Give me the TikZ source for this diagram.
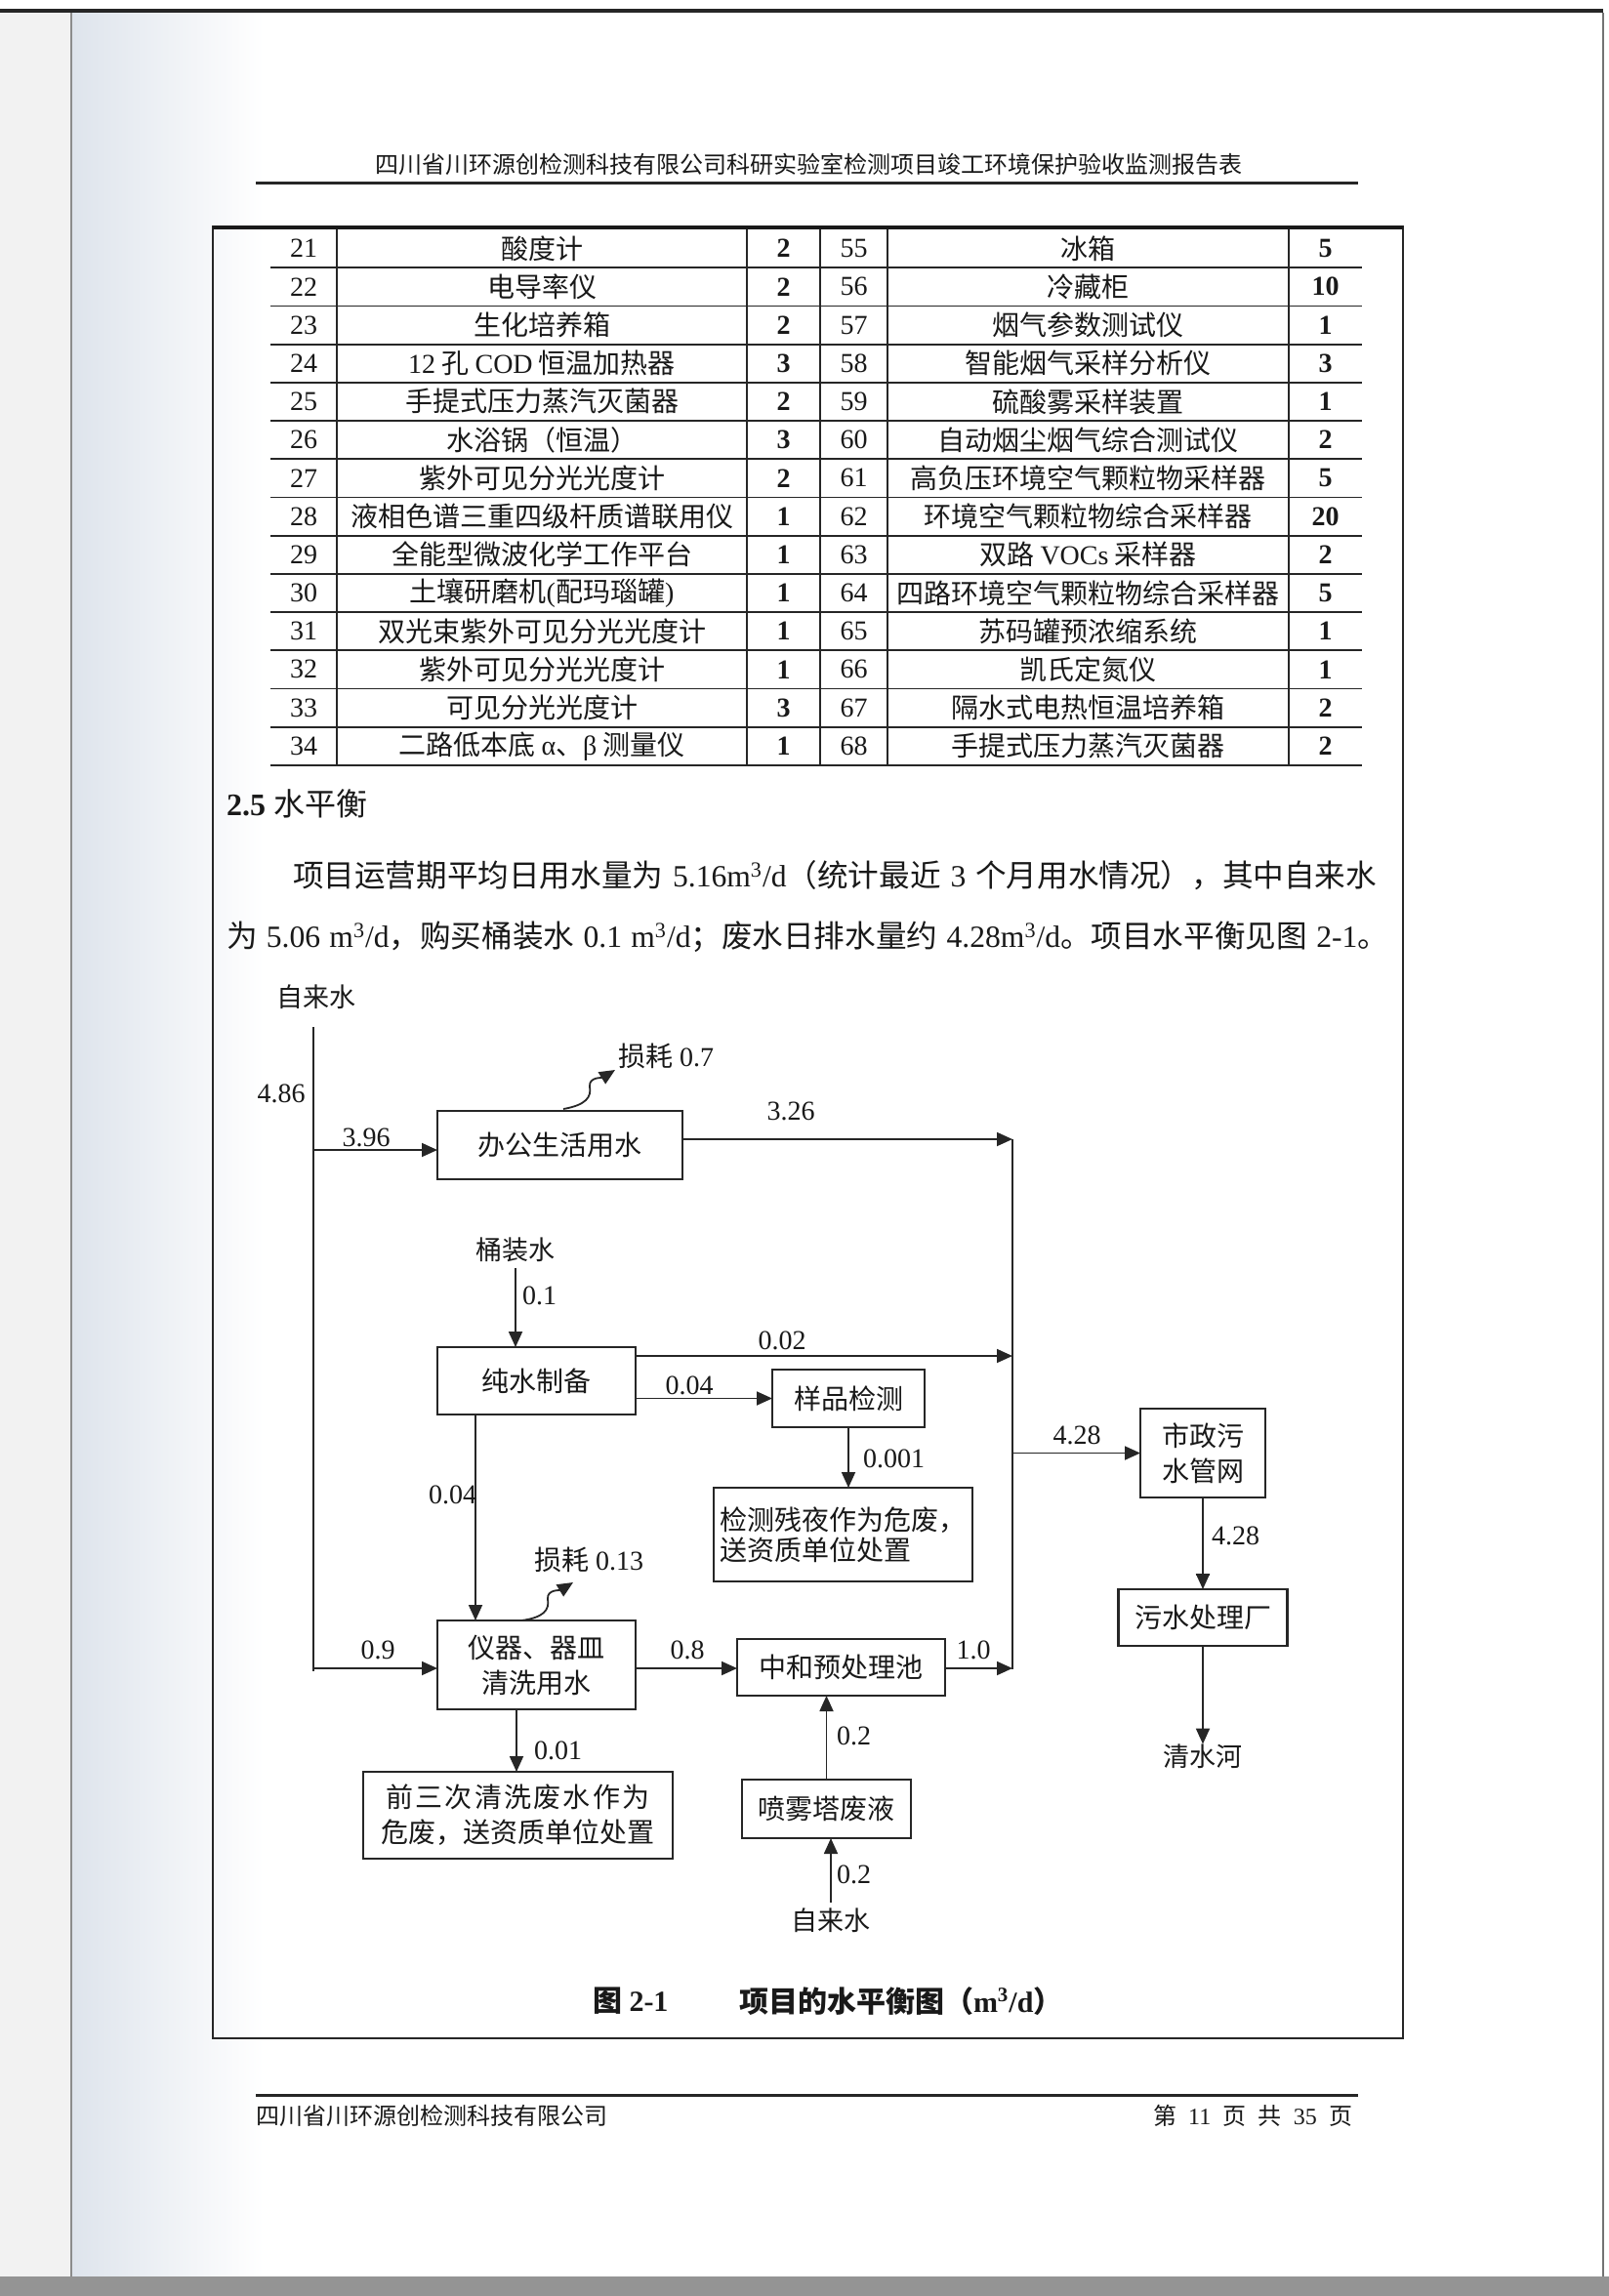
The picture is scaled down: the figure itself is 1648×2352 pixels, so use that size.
\documentclass[tikz,border=0pt]{standalone}
\usepackage{fontspec}
\setmainfont{Liberation Serif}
\newfontfamily\cjk{Noto Sans CJK SC}
\newfontfamily\cjksp[LetterSpace=8]{Noto Sans CJK SC}
\usetikzlibrary{arrows.meta}
\newcommand\zh[1]{{\cjk #1}}
\definecolor{scanshade}{RGB}{222,228,236}
\begin{document}
\begin{tikzpicture}[x=0.5pt,y=-0.5pt,
  every node/.style={inner sep=0pt, outer sep=0pt, text=black!90},
  tline/.style={line width=0.9pt, black!85},
  cell/.style={font=\fontsize{14}{16}\selectfont\cjk},
  num/.style={font=\fontsize{14}{16}\selectfont},
  cnt/.style={font=\fontsize{14}{16}\selectfont\bfseries},
  box/.style={draw=black!85, line width=1.2pt, inner sep=0pt, font=\fontsize{14}{18}\selectfont\cjk, align=center},
  lbl/.style={font=\fontsize{14}{16}\selectfont},
  zlbl/.style={font=\fontsize{13.5}{16}\selectfont\cjk},
  flow/.style={line width=0.9pt, black!85},
  arr/.style={flow, -{Triangle[length=8pt,width=7pt]}},
]
\useasboundingbox (0,0) rectangle (1648,2352);
% page and scan artefacts
\fill[white] (0,0) rectangle (1648,2352);
\fill[black!5] (0,13) rectangle (72,2332);
\shade[left color=scanshade, right color=white] (74,13) rectangle (270,2332);
\draw[black!45, line width=1pt] (73,13) -- (73,2332);
\fill[black!85] (0,9) rectangle (1642,13);
\draw[black!55, line width=0.8pt] (1642,13) -- (1642,2332);
\fill[black!42] (0,2332) rectangle (1648,2352);

% header
\node[font=\fontsize{12}{14}\selectfont\cjk] (hdr) at (828,168) {四川省川环源创检测科技有限公司科研实验室检测项目竣工环境保护验收监测报告表};
\draw[line width=1.5pt, black!85] (262,187) -- (1391,187);

% page frame
\draw[line width=1pt, black!85] (218,232) rectangle (1437,2088);
\draw[line width=2pt, black!90] (218,233) -- (1437,233);

% table
\foreach \k in {1,...,14} \draw[tline] (277,{235+39.2*\k}) -- (1395,{235+39.2*\k});
\foreach \x in {345,765,840,909,1320} \draw[tline] (\x,235) -- (\x,784);
\foreach \i/\na/\ta/\ca/\nb/\tb/\cb in {
 0/21/酸度计/2/55/冰箱/5,
 1/22/电导率仪/2/56/冷藏柜/10,
 2/23/生化培养箱/2/57/烟气参数测试仪/1,
 3/24/{{\rmfamily 12} 孔 {\rmfamily COD} 恒温加热器}/3/58/智能烟气采样分析仪/3,
 4/25/手提式压力蒸汽灭菌器/2/59/硫酸雾采样装置/1,
 5/26/水浴锅（恒温）/3/60/自动烟尘烟气综合测试仪/2,
 6/27/紫外可见分光光度计/2/61/高负压环境空气颗粒物采样器/5,
 7/28/液相色谱三重四级杆质谱联用仪/1/62/环境空气颗粒物综合采样器/20,
 8/29/全能型微波化学工作平台/1/63/{双路 {\rmfamily VOCs} 采样器}/2,
 9/30/{土壤研磨机{\rmfamily (}配玛瑙罐{\rmfamily )}}/1/64/四路环境空气颗粒物综合采样器/5,
 10/31/双光束紫外可见分光光度计/1/65/苏码罐预浓缩系统/1,
 11/32/紫外可见分光光度计/1/66/凯氏定氮仪/1,
 12/33/可见分光光度计/3/67/隔水式电热恒温培养箱/2,
 13/34/{二路低本底 {\rmfamily α}、{\rmfamily β} 测量仪}/1/68/手提式压力蒸汽灭菌器/2}{
  \node[num] (na\i) at (311,{254.6+39.2*\i}) {\na};
  \node[cell] (ta\i) at (555,{254.6+39.2*\i}) {\ta};
  \node[cnt] (ca\i) at (802.5,{254.6+39.2*\i}) {\ca};
  \node[num] (nb\i) at (874.5,{254.6+39.2*\i}) {\nb};
  \node[cell] (tb\i) at (1114.5,{254.6+39.2*\i}) {\tb};
  \node[cnt] (cb\i) at (1357.5,{254.6+39.2*\i}) {\cb};
}

% section heading and paragraph
\node[anchor=west, font=\fontsize{16}{18}\selectfont] (sec) at (232,823) {\textbf{2.5} \zh{水平衡}};
\node[anchor=west, font=\fontsize{15.8}{18}\selectfont] (p1) at (300,897) {\makebox[555pt][s]{\zh{项目运营期平均日用水量为} 5.16m\textsuperscript{3}/d\zh{（统计最近} 3 \zh{个月用水情况），其中自来水}}};
\node[anchor=west, font=\fontsize{15.8}{18}\selectfont] (p2) at (232,960) {\makebox[595pt][s]{\zh{为} 5.06 m\textsuperscript{3}/d\zh{，购买桶装水} 0.1 m\textsuperscript{3}/d\zh{；废水日排水量约} 4.28m\textsuperscript{3}/d\zh{。项目水平衡见图} 2-1\zh{。}}};

% ---------- diagram ----------
\node[zlbl] (src1) at (324,1021) {自来水};
\coordinate (mtop) at (321,1052);
\coordinate (mbot) at (321,1712);
\draw[flow] (mtop) -- (mbot);
\node[lbl] (l486) at (288,1120) {4.86};

\node[box, minimum width=125.5pt, minimum height=35pt] (office) at (573.5,1173) {办公生活用水};
\coordinate (j396) at (321,1178);
\draw[arr] (j396) -- (j396 -| office.west);
\node[lbl] (l396) at (375,1165) {3.96};

\coordinate (c326) at (1037,1167);
\coordinate (cbot) at (1037,1710);
\draw[flow] (c326) -- (cbot);
\draw[arr] (office.east |- c326) -- (c326);
\node[lbl] (l326) at (810,1138) {3.26};

\coordinate (loss1) at (630,1096);
\draw[flow, -{Triangle[length=8pt,width=7pt]}] (577,1136) .. controls (600,1132) and (606,1124) .. (604,1113) .. controls (603,1103) and (617,1104) .. (loss1);
\node[lbl] (l07) at (682,1082) {\zh{损耗} 0.7};

\node[zlbl] (tz) at (528,1280) {桶装水};
\node[box, minimum width=101.5pt, minimum height=34.5pt] (pure) at (549.5,1414.5) {纯水制备};
\draw[arr] ([yshift=-3pt]tz.south) -- (tz.south |- pure.north);
\node[lbl, anchor=west] (l01) at (535,1327) {0.1};

\coordinate (c002) at (1037,1389);
\draw[arr] (pure.east |- c002) -- (c002);
\node[lbl] (l002) at (801,1373) {0.02};

\node[box, minimum width=78pt, minimum height=29.5pt] (sample) at (869,1432.5) {样品检测};
\draw[arr] (pure.east |- sample.west) -- (sample.west);
\node[lbl] (l004h) at (706,1419) {0.04};

\node[box, minimum width=132.5pt, minimum height=48pt, align=left, font=\fontsize{14}{15.5}\selectfont\cjk] (resid) at (863.5,1572) {检测残夜作为危废，\\送资质单位处置};
\draw[arr] (sample.south) -- (sample.south |- resid.north);
\node[lbl, anchor=west] (l0001) at (884,1494) {0.001};

\node[box, minimum width=64pt, minimum height=45.5pt] (muni) at (1232,1488.5) {市政污\\水管网};
\coordinate (c428) at (1037,1488.5);
\draw[arr] (c428) -- (muni.west);
\node[lbl] (l428h) at (1103,1470) {4.28};

\node[box, minimum width=86.5pt, minimum height=29pt] (plant) at (1232,1657) {污水处理厂};
\draw[arr] (muni.south) -- (muni.south |- plant.north);
\coordinate (barc) at (1232,1613);
\draw[flow] ([xshift=-3.5pt]barc) -- ([xshift=3.5pt]barc);
\node[lbl, anchor=west] (l428v) at (1241,1573) {4.28};

\node[zlbl] (qsh) at (1232,1799) {清水河};
\draw[arr] (plant.south) -- (qsh.north);

\node[box, minimum width=101.5pt, minimum height=45.5pt] (wash) at (549.5,1705.5) {仪器、器皿\\清洗用水};
\coordinate (p04) at (487,1449);
\draw[arr] (p04) -- (p04 |- wash.north);
\node[lbl, anchor=east] (l004v) at (488,1531) {0.04};

\coordinate (loss2) at (587,1621);
\draw[flow, -{Triangle[length=8pt,width=7pt]}] (534,1660) .. controls (557,1657) and (563,1649) .. (561,1638) .. controls (560,1628) and (574,1629) .. (loss2);
\node[lbl] (l013) at (603,1598) {\zh{损耗} 0.13};

\node[box, minimum width=106.5pt, minimum height=29pt] (neut) at (861.5,1708) {中和预处理池};
\coordinate (j09) at (321,1709);
\draw[arr] (j09) -- (j09 -| wash.west);
\node[lbl] (l09) at (387,1690) {0.9};
\draw[arr] (wash.east |- j09) -- (j09 -| neut.west);
\node[lbl] (l08) at (704,1690) {0.8};
\draw[arr] (neut.east |- j09) -- (j09 -| cbot);
\node[lbl] (l10) at (997,1690) {1.0};

\node[box, minimum width=158.5pt, minimum height=44.5pt] (waste3) at (530.5,1859.5) {{\cjksp 前三次清洗废水作为}\\危废，送资质单位处置};
\draw[arr] (wash.south -| 529,0) -- (waste3.north -| 529,0);
\node[lbl, anchor=west] (l001) at (547,1793) {0.01};

\node[box, minimum width=86.5pt, minimum height=30pt] (spray) at (846.5,1853) {喷雾塔废液};
\draw[arr] (spray.north) -- (spray.north |- neut.south);
\node[lbl, anchor=west] (l02a) at (857,1778) {0.2};

\node[zlbl] (src2) at (851,1967) {自来水};
\draw[arr] ([yshift=3pt]src2.north) -- (src2.north |- spray.south);
\node[lbl, anchor=west] (l02b) at (857,1920) {0.2};

% caption
\node[anchor=west, font=\fontsize{15}{17}\selectfont\bfseries] (cap1) at (607,2050) {\zh{图} 2-1};
\node[anchor=west, font=\fontsize{15}{17}\selectfont\bfseries] (cap2) at (757,2050) {\zh{项目的水平衡图（}m\textsuperscript{3}/d\zh{）}};

% footer
\draw[line width=1.5pt, black!85] (262,2146) -- (1391,2146);
\node[anchor=west, font=\fontsize{12}{14}\selectfont\cjk] (fl) at (262,2167) {四川省川环源创检测科技有限公司};
\node[anchor=east, font=\fontsize{12}{14}\selectfont] (fr) at (1385,2167) {\makebox[102pt][s]{\zh{第} 11 \zh{页} \zh{共} 35 \zh{页}}};
\end{tikzpicture}
\end{document}
